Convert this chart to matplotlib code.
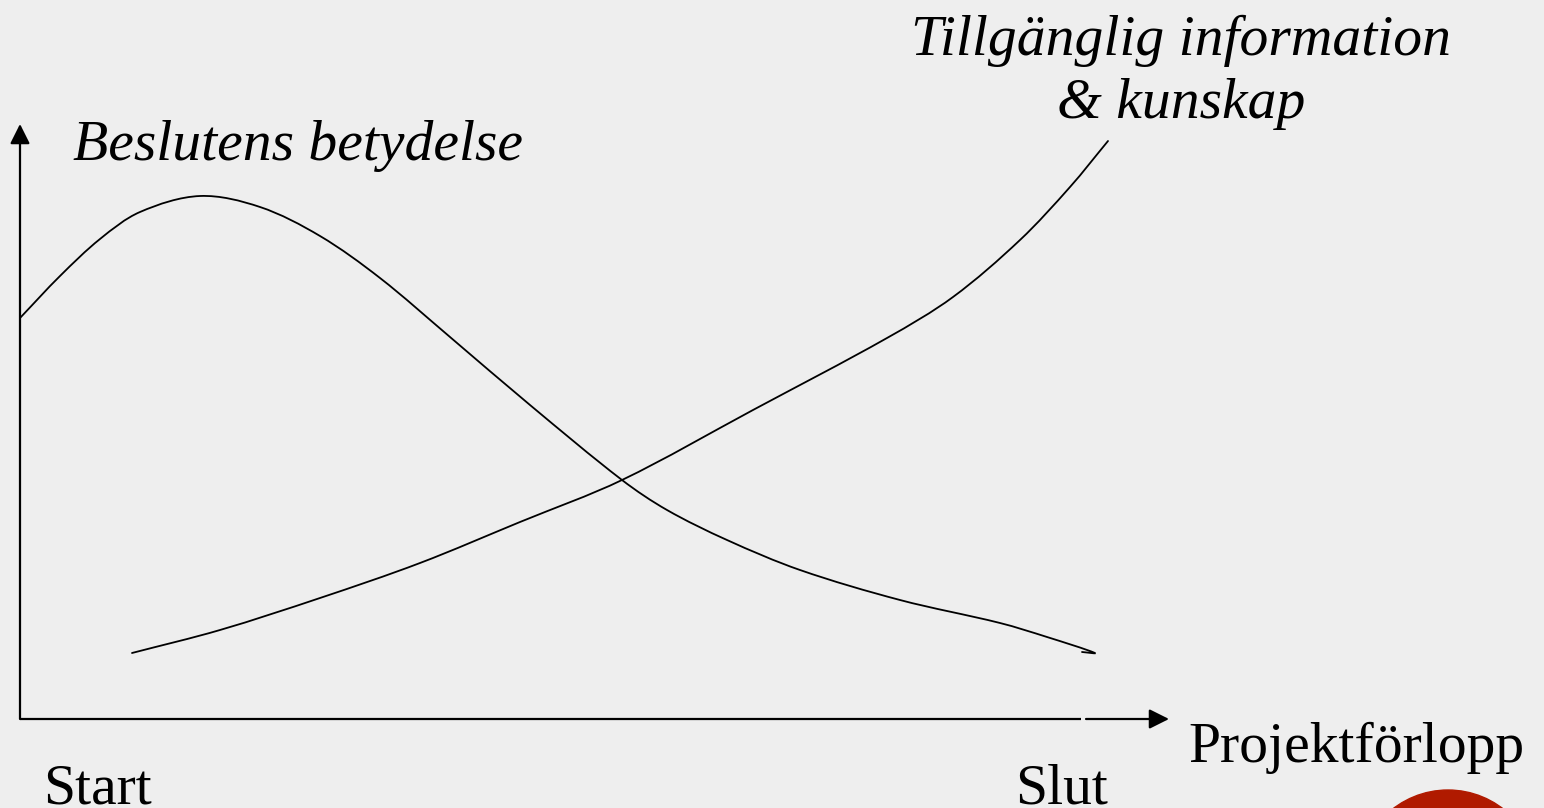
import matplotlib.pyplot as plt
from matplotlib.path import Path
from matplotlib.patches import PathPatch, Circle
import numpy as np

# picture coordinates (pixels, y pointing down)
beslut_x = [20, 60, 100, 140, 200, 260, 320, 380, 450, 530, 622, 667, 727, 800, 900, 1000, 1047, 1095, 1082]
beslut_y = [318, 276, 239, 212, 196, 207, 236, 278, 337, 405, 480, 510, 540, 570, 600, 623, 637, 653, 652]

info_x = [132, 220, 320, 420, 520, 622, 753, 887, 953, 1020, 1070, 1108]
info_y = [653, 630, 598, 563, 522, 480, 410, 338, 297, 240, 187, 141]

bg = '#eeeeee'


def smooth_path(xs, ys):
    # hermite curve through the read points, tangents from chord length
    p = np.column_stack([xs, ys]).astype(float)
    t = np.concatenate([[0], np.cumsum(np.hypot(*np.diff(p, axis=0).T))])
    m = np.zeros_like(p)
    m[1:-1] = (p[2:] - p[:-2]) / (t[2:] - t[:-2])[:, None]
    m[0] = (p[1] - p[0]) / (t[1] - t[0])
    m[-1] = (p[-1] - p[-2]) / (t[-1] - t[-2])
    verts = [p[0]]
    codes = [Path.MOVETO]
    for i in range(len(p) - 1):
        h = t[i + 1] - t[i]
        verts += [p[i] + m[i] * h / 3, p[i + 1] - m[i + 1] * h / 3, p[i + 1]]
        codes += [Path.CURVE4] * 3
    return Path(verts, codes)


fig = plt.figure(figsize=(15.44, 8.08), dpi=100, facecolor=bg)
ax = fig.add_axes([0, 0, 1, 1])
ax.set_xlim(0, 1544)
ax.set_ylim(808, 0)
ax.axis('off')
ax.set_facecolor(bg)

for xs, ys in [(beslut_x, beslut_y), (info_x, info_y)]:
    ax.add_patch(PathPatch(smooth_path(xs, ys), fill=False, lw=1.3, color='black', capstyle='round'))

# axes with arrows
arrow = dict(arrowstyle='-|>,head_length=0.6,head_width=0.3', mutation_scale=20,
             lw=1.6, color='black', shrinkA=0, shrinkB=0)
ax.annotate('', xy=(20, 124), xytext=(20, 719), arrowprops=arrow)
ax.plot([20, 1081], [719, 719], color='black', lw=1.6, solid_capstyle='butt')
ax.annotate('', xy=(1169, 719), xytext=(1086, 719), arrowprops=arrow)

serif = ['Liberation Serif', 'DejaVu Serif']
ax.text(73, 160, 'Beslutens betydelse', family=serif, style='italic', fontsize=41.5,
        ha='left', va='baseline')
ax.text(1181, 55, 'Tillgänglig information', family=serif, style='italic', fontsize=41.5,
        ha='center', va='baseline')
ax.text(1181, 118, '& kunskap', family=serif, style='italic', fontsize=41.5,
        ha='center', va='baseline')
ax.text(1188, 762, 'Projektförlopp', family=serif, fontsize=41.5, ha='left', va='baseline')
ax.text(43, 803, 'Start', family=serif, fontsize=41.5, ha='left', va='baseline')
ax.text(1015, 803, 'Slut', family=serif, fontsize=41.5, ha='left', va='baseline')

# red logo corner
ax.add_patch(Circle((1448, 880), 90, color='#b01a00', clip_on=True))

fig.savefig('out.png', dpi=100, facecolor=bg)
